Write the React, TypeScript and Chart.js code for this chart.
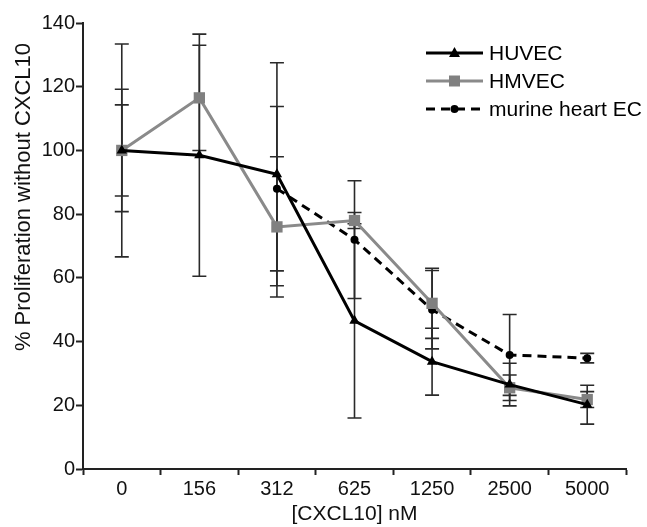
import React, { useEffect, useRef } from "react";
import { Chart, registerables } from "chart.js";

Chart.register(...registerables);

const categories = ["0", "156", "312", "625", "1250", "2500", "5000"];
const seriesNames = ["HUVEC", "HMVEC", "murine heart EC"];
const huvec = [100, 98.5, 92.5, 46.5, 33.7, 26.5, 20.2];
const huvecErr = [33.4, 38, 35, 30.5, 10.5, 6.7, 6.1];
const hmvec = [100, 116.5, 76, 78, 52, 25.5, 21.8];
const hmvecErr = [19.2, 16.5, 22, 2.5, 11, 4, 2.5];
const murine: (number | null)[] = [100, null, 88, 72, 50, 35.8, 34.8];
const murineErr: (number | null)[] = [14.3, null, 25.8, 18.5, 12.3, 12.7, 1.5];
const yMin = 0;
const yMax = 140;
const yStep = 20;
const xTitle = "[CXCL10] nM";
const yTitle = "% Proliferation without CXCL10";

const errors = [huvecErr, hmvecErr, murineErr];
const FONT = "'Liberation Sans', Arial, sans-serif";

const errorBarPlugin = {
  id: "errorBars",
  beforeDatasetsDraw(chart: any) {
    const ctx = chart.ctx;
    const y = chart.scales.y;
    ctx.save();
    ctx.strokeStyle = "#2a2a2a";
    ctx.lineWidth = 1.6;
    chart.data.datasets.forEach((ds: any, i: number) => {
      const errs = errors[i];
      const meta = chart.getDatasetMeta(i);
      ds.data.forEach((v: number | null, j: number) => {
        const e = errs[j];
        if (v == null || e == null) return;
        const px = meta.data[j].x;
        const top = y.getPixelForValue(v + e);
        const bot = y.getPixelForValue(v - e);
        ctx.beginPath();
        ctx.moveTo(px, top);
        ctx.lineTo(px, bot);
        ctx.moveTo(px - 7, top);
        ctx.lineTo(px + 7, top);
        ctx.moveTo(px - 7, bot);
        ctx.lineTo(px + 7, bot);
        ctx.stroke();
      });
    });
    ctx.restore();
  },
};

const yTitlePlugin = {
  id: "yTitle",
  afterDraw(chart: any) {
    const ctx = chart.ctx;
    ctx.save();
    ctx.translate(24, 197);
    ctx.rotate(-Math.PI / 2);
    ctx.fillStyle = "#111";
    ctx.font = `22px ${FONT}`;
    ctx.textAlign = "center";
    ctx.textBaseline = "middle";
    ctx.fillText(yTitle, 0, 0);
    ctx.restore();
  },
};

const legendPlugin = {
  id: "customLegend",
  afterDraw(chart: any) {
    const ctx = chart.ctx;
    const x0 = 426;
    const x1 = 483;
    const rows = [53, 81, 109];
    ctx.save();
    chart.data.datasets.forEach((ds: any, i: number) => {
      const yy = rows[i];
      ctx.strokeStyle = ds.borderColor;
      ctx.lineWidth = ds.borderWidth;
      ctx.setLineDash(ds.borderDash || []);
      ctx.beginPath();
      ctx.moveTo(x0, yy);
      ctx.lineTo(x1, yy);
      ctx.stroke();
      ctx.setLineDash([]);
      const cx = (x0 + x1) / 2;
      ctx.fillStyle = ds.pointBackgroundColor;
      ctx.beginPath();
      if (ds.pointStyle === "triangle") {
        ctx.moveTo(cx, yy - 6);
        ctx.lineTo(cx + 5.5, yy + 4);
        ctx.lineTo(cx - 5.5, yy + 4);
        ctx.closePath();
      } else if (ds.pointStyle === "rect") {
        ctx.rect(cx - 5.5, yy - 5.5, 11, 11);
      } else {
        ctx.arc(cx, yy, 4, 0, Math.PI * 2);
      }
      ctx.fill();
      ctx.fillStyle = "#000";
      ctx.font = `21px ${FONT}`;
      ctx.textBaseline = "middle";
      ctx.textAlign = "left";
      ctx.fillText(ds.label, 489, yy + 1);
    });
    ctx.restore();
  },
};

export default function App() {
  const ref = useRef<HTMLCanvasElement | null>(null);
  useEffect(() => {
    document.body.style.margin = "0";
    const canvas = ref.current;
    if (!canvas) return;
    const chart = new Chart(canvas, {
      type: "line",
      data: {
        labels: categories,
        datasets: [
          {
            label: seriesNames[0],
            data: huvec,
            borderColor: "#000000",
            backgroundColor: "#000000",
            pointBackgroundColor: "#000000",
            pointBorderColor: "#000000",
            borderWidth: 3,
            pointStyle: "triangle",
            pointRadius: 6,
            pointBorderWidth: 0,
            tension: 0,
          } as any,
          {
            label: seriesNames[1],
            data: hmvec,
            borderColor: "#8a8a8a",
            backgroundColor: "#808080",
            pointBackgroundColor: "#808080",
            pointBorderColor: "#808080",
            borderWidth: 3,
            pointStyle: "rect",
            pointRadius: 8,
            pointBorderWidth: 0,
            tension: 0,
          } as any,
          {
            label: seriesNames[2],
            data: murine,
            borderColor: "#000000",
            backgroundColor: "#000000",
            pointBackgroundColor: "#000000",
            pointBorderColor: "#000000",
            borderWidth: 3,
            borderDash: [9, 6],
            pointStyle: "circle",
            pointRadius: 4,
            pointBorderWidth: 0,
            tension: 0,
            spanGaps: false,
          } as any,
        ],
      },
      options: {
        responsive: false,
        animation: false,
        layout: { padding: { top: 23, right: 21, left: 0, bottom: 0 } },
        plugins: {
          legend: { display: false },
          tooltip: { enabled: false },
        },
        scales: {
          x: {
            type: "category",
            offset: true,
            grid: {
              offset: true,
              drawOnChartArea: false,
              drawTicks: true,
              tickLength: 6,
              tickColor: "#222",
              tickWidth: 2,
            },
            border: { color: "#222", width: 2 },
            ticks: {
              color: "#111",
              font: { family: FONT, size: 20 },
              padding: 2,
              maxRotation: 0,
              autoSkip: false,
            },
            title: {
              display: true,
              text: xTitle,
              color: "#111",
              font: { family: FONT, size: 21 },
              padding: { top: 0, bottom: 0 },
            },
            afterFit: (s: any) => {
              s.height = 58;
            },
          } as any,
          y: {
            min: yMin,
            max: yMax,
            grid: {
              drawOnChartArea: false,
              drawTicks: true,
              tickLength: 7,
              tickColor: "#222",
              tickWidth: 2,
            },
            border: { color: "#222", width: 2 },
            ticks: {
              stepSize: yStep,
              color: "#111",
              font: { family: FONT, size: 20 },
              padding: 1,
            },
            title: { display: false },
            afterFit: (s: any) => {
              s.width = 83;
            },
          } as any,
        },
      },
      plugins: [errorBarPlugin, legendPlugin, yTitlePlugin],
    });
    return () => chart.destroy();
  }, []);
  return (
    <div style={{ width: 647, height: 527, background: "#fff" }}>
      <canvas ref={ref} width={647} height={527} />
    </div>
  );
}
